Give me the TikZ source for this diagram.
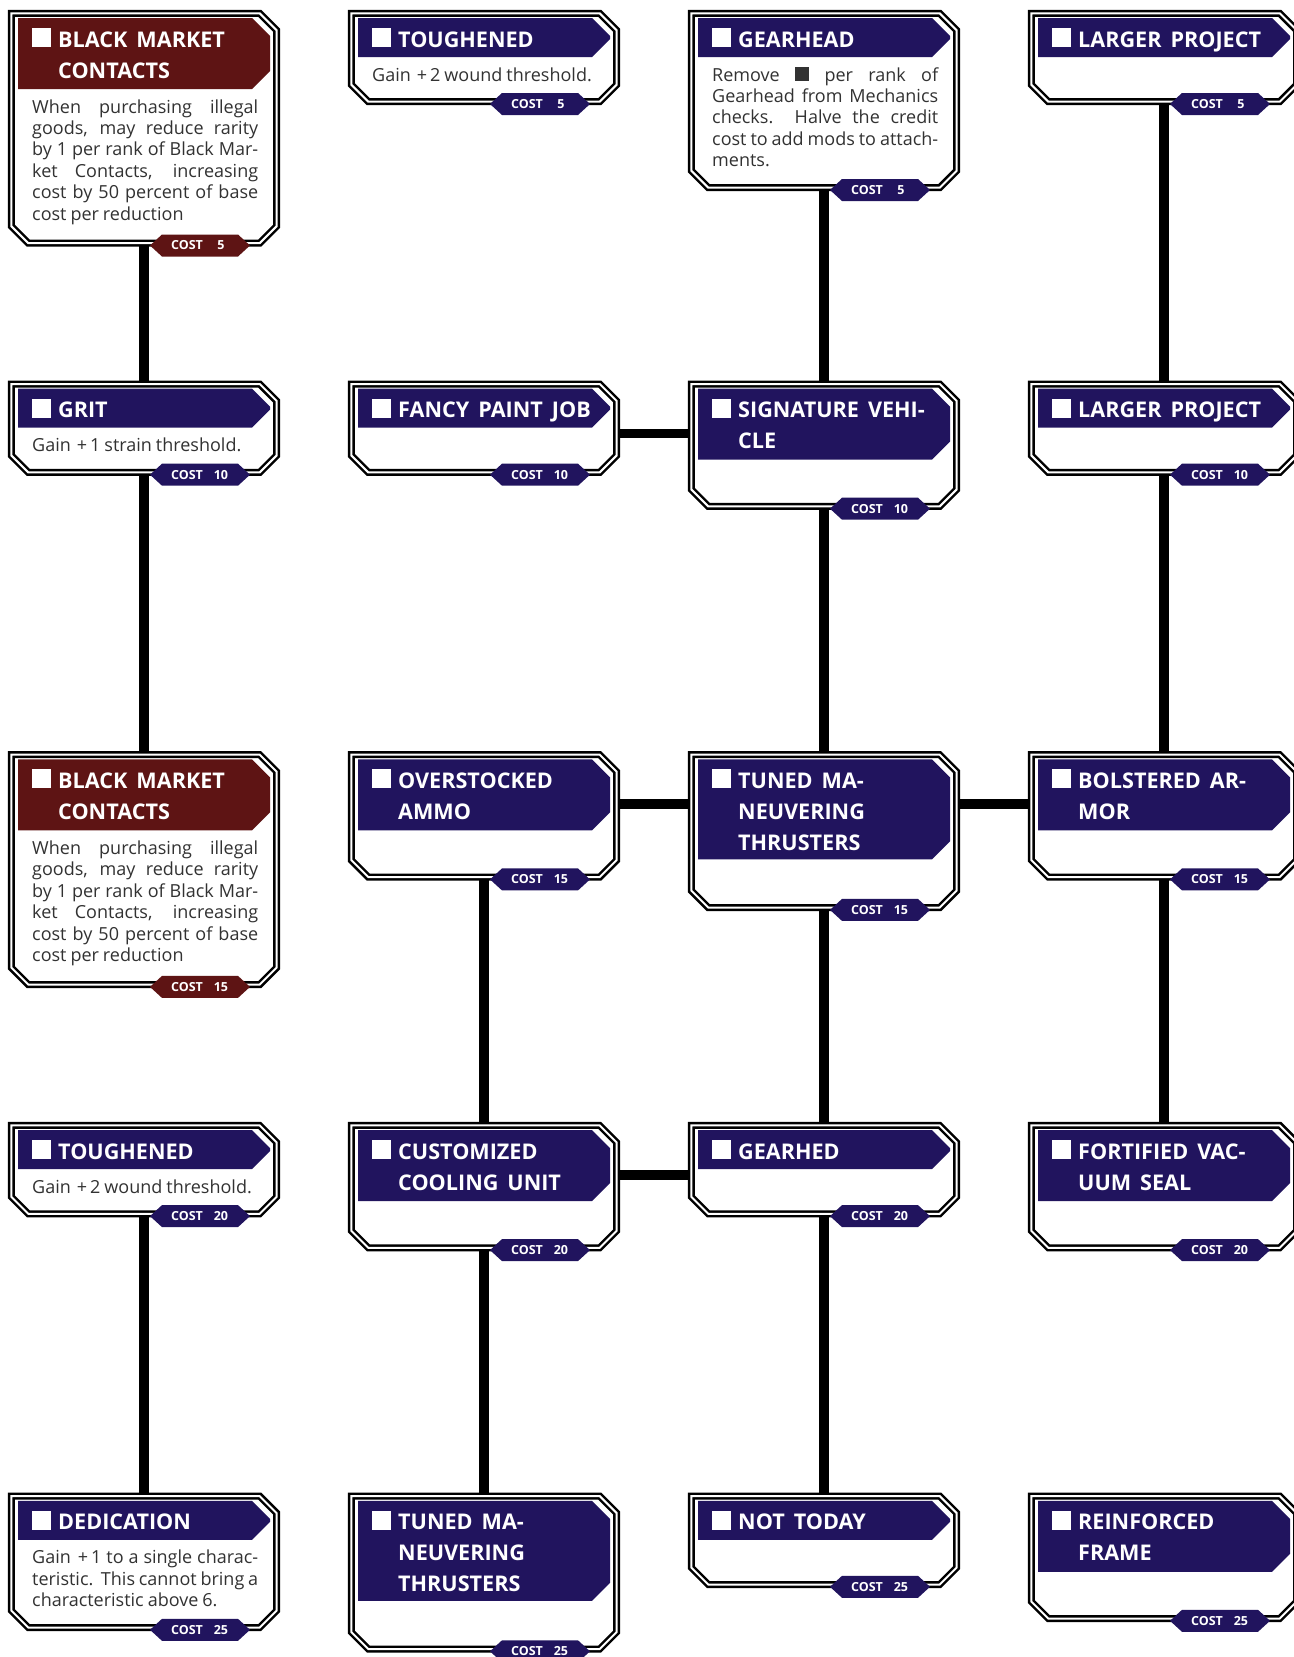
\documentclass[tikz,border=0pt]{standalone}
\usepackage{fontspec}
\setmainfont{Open Sans}
\newfontfamily\bodyfont{Open Sans}[WordSpace=0.85]
\usetikzlibrary{calc,backgrounds}
\definecolor{navy}{RGB}{33,20,94}
\definecolor{wine}{RGB}{94,20,20}
\definecolor{bodygray}{RGB}{50,50,50}
\newcommand\tsp{\hspace{9pt}}
\newcommand\plusn[1]{\kern2pt+\kern3pt#1}
\tikzset{
  cardnode/.style={rectangle, inner sep=0pt, minimum width=265pt},
  cardline/.style={draw=black, line width=2.5pt, double=white, double distance=2pt, fill=white, line join=miter},
  link/.style={line width=9.5pt, draw=black},
  titletext/.style={anchor=base west, inner sep=0pt, text=white, font={\fontsize{21.6}{31}\selectfont\bfseries}},
  bodytext/.style={anchor=base west, inner sep=0pt, text=bodygray, font={\bodyfont\fontsize{18}{21.4}\selectfont}},
  costtext/.style={inner sep=0pt, text=white, font={\fontsize{12.5}{13}\selectfont\bfseries}},
}
% #1 name, #2 centre x, #3 top, #4 title lines, #5 body lines (>=1), #6 colour, #7 title, #8 body, #9 cost
\newcommand\talentcard[9]{%
  \pgfmathsetmacro\hH{39+32*(#4>1)+29*(#4>2)}%
  \pgfmathsetmacro\cH{56+\hH+2*(#4>1)+1.5*(#4>2)+21.5*(#5-1)}%
  \pgfmathsetmacro\cMid{#3+\cH/2}%
  \pgfmathsetmacro\cIn{\cH-7}%
  \pgfmathsetmacro\yT{#3+8}%
  \pgfmathsetmacro\yB{#3+8+\hH}%
  \pgfmathsetmacro\tY{#3+\cH-1}%
  \node[cardnode, minimum height=\cIn pt] (#1) at (#2,\cMid) {};
  \path[cardline] (#1.north west) -- ($(#1.north east)+(-17,0)$) -- ($(#1.north east)+(0,17)$)
     -- ($(#1.south east)+(0,-17)$) -- ($(#1.south east)+(-17,0)$) -- ($(#1.south west)+(17,0)$)
     -- ($(#1.south west)+(0,-17)$) -- cycle;
  \fill[#6] (#2-126,\yT) -- (#2+108,\yT) -- (#2+126,\yT+18) -- (#2+126,\yB-18) -- (#2+108,\yB) -- (#2-126,\yB) -- cycle;
  \fill[white] (#2-112,#3+18) rectangle ++(19,19);
  \node[titletext] (#1-t) at (#2-86,#3+37) {\parbox[t]{210pt}{\raggedright #7}};
  \node[bodytext] (#1-b) at (#2-112,\yB+24) {\parbox[t]{226pt}{#8}};
  \fill[#6] (#2+6,\tY) -- (#2+18,\tY-11) -- (#2+94,\tY-11) -- (#2+106,\tY) -- (#2+94,\tY+11) -- (#2+18,\tY+11) -- cycle;
  \node[costtext] (#1-c) at (#2+56,\tY) {COST\hspace{10pt}\makebox[16pt][c]{#9}};
}
\newcommand\bmctext{When purchasing illegal\linebreak goods, may reduce rarity\linebreak by 1 per rank of Black Mar-\linebreak ket Contacts, increasing\linebreak cost by 50 percent of base\linebreak cost per reduction}
\begin{document}
\begin{tikzpicture}[x=1pt,y=-1pt]
\useasboundingbox (0,0) rectangle (1293,1657);
% row 1
\talentcard{a1}{144}{10}{2}{6}{wine}{BLACK\tsp MARKET\\CONTACTS}{\bmctext}{5}
\talentcard{b1}{484}{10}{1}{1}{navy}{TOUGHENED}{Gain \plusn{2} wound threshold.}{5}
\talentcard{c1}{824}{10}{1}{5}{navy}{GEARHEAD}{Remove \rule{14pt}{14pt} per rank of\linebreak Gearhead from Mechanics\linebreak checks.\ \ Halve the credit\linebreak cost to add mods to attach-\linebreak ments.}{5}
\talentcard{d1}{1164}{10}{1}{1}{navy}{LARGER\tsp PROJECT}{}{5}
% row 2
\talentcard{a2}{144}{380.7}{1}{1}{navy}{GRIT}{Gain \plusn{1} strain threshold.}{10}
\talentcard{b2}{484}{380.7}{1}{1}{navy}{FANCY\tsp PAINT\tsp JOB}{}{10}
\talentcard{c2}{824}{380.7}{2}{1}{navy}{SIGNATURE\tsp VEHI-\\CLE}{}{10}
\talentcard{d2}{1164}{380.7}{1}{1}{navy}{LARGER\tsp PROJECT}{}{10}
% row 3
\talentcard{a3}{144}{751.4}{2}{6}{wine}{BLACK\tsp MARKET\\CONTACTS}{\bmctext}{15}
\talentcard{b3}{484}{751.4}{2}{1}{navy}{OVERSTOCKED\\AMMO}{}{15}
\talentcard{c3}{824}{751.4}{3}{1}{navy}{TUNED\tsp MA-\\NEUVERING\\THRUSTERS}{}{15}
\talentcard{d3}{1164}{751.4}{2}{1}{navy}{BOLSTERED\tsp AR-\\MOR}{}{15}
% row 4
\talentcard{a4}{144}{1122.1}{1}{1}{navy}{TOUGHENED}{Gain \plusn{2} wound threshold.}{20}
\talentcard{b4}{484}{1122.1}{2}{1}{navy}{CUSTOMIZED\\COOLING\tsp UNIT}{}{20}
\talentcard{c4}{824}{1122.1}{1}{1}{navy}{GEARHED}{}{20}
\talentcard{d4}{1164}{1122.1}{2}{1}{navy}{FORTIFIED\tsp VAC-\\UUM\tsp SEAL}{}{20}
% row 5
\talentcard{a5}{144}{1492.8}{1}{3}{navy}{DEDICATION}{Gain \plusn{1} to a single charac-\linebreak teristic.\ \ This cannot bring a\linebreak characteristic above 6.}{25}
\talentcard{b5}{484}{1492.8}{3}{1}{navy}{TUNED\tsp MA-\\NEUVERING\\THRUSTERS}{}{25}
\talentcard{c5}{824}{1492.8}{1}{1}{navy}{NOT\tsp TODAY}{}{25}
\talentcard{d5}{1164}{1492.8}{2}{1}{navy}{REINFORCED\\FRAME}{}{25}
% connectors
\begin{pgfonlayer}{background}
\foreach \ua/\vb in {a1/a2,a2/a3,a4/a5,b3/b4,b4/b5,c1/c2,c2/c3,c3/c4,c4/c5,d1/d2,d2/d3,d3/d4}
  \draw[link] (\ua.south) -- (\vb.north);
\foreach \ua/\vb in {b2/c2,b3/c3,c3/d3,b4/c4}
  \draw[link] ($(\ua.north east)+(0,49.5)$) -- ($(\vb.north west)+(0,49.5)$);
\end{pgfonlayer}
\end{tikzpicture}
\end{document}
